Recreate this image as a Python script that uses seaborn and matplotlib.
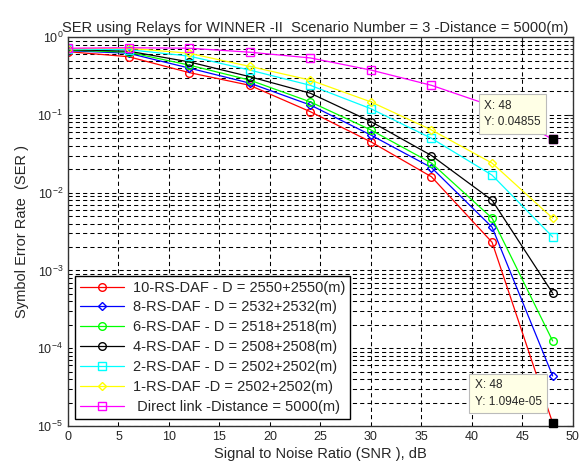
import matplotlib
matplotlib.use("Agg")
import matplotlib.pyplot as plt
import numpy as np
import pandas as pd
import seaborn as sns
from matplotlib.ticker import LogLocator, NullFormatter

snr = [0, 6, 12, 18, 24, 30, 36, 42, 48]

labels = [
    "10-RS-DAF - D = 2550+2550(m)",
    "8-RS-DAF - D = 2532+2532(m)",
    "6-RS-DAF - D = 2518+2518(m)",
    "4-RS-DAF - D = 2508+2508(m)",
    "2-RS-DAF - D = 2502+2502(m)",
    "1-RS-DAF -D = 2502+2502(m)",
    " Direct link -Distance = 5000(m)",
]

ser_10 = [0.65, 0.56, 0.35, 0.24, 0.11, 0.045, 0.016, 0.0023, 1.094e-5]
ser_8 = [0.67, 0.62, 0.40, 0.256, 0.134, 0.055, 0.021, 0.0036, 4.4e-5]
ser_6 = [0.68, 0.64, 0.437, 0.28, 0.147, 0.064, 0.024, 0.0047, 1.24e-4]
ser_4 = [0.69, 0.66, 0.48, 0.31, 0.19, 0.082, 0.030, 0.008, 5.1e-4]
ser_2 = [0.70, 0.69, 0.57, 0.377, 0.24, 0.12, 0.05, 0.0168, 0.0027]
ser_1 = [0.71, 0.72, 0.62, 0.42, 0.28, 0.147, 0.064, 0.024, 0.0047]
ser_direct = [0.72, 0.73, 0.72, 0.64, 0.54, 0.377, 0.24, 0.13, 0.04855]

series = [ser_10, ser_8, ser_6, ser_4, ser_2, ser_1, ser_direct]
colors = ["#ff0000", "#0000ff", "#00ff00", "#000000", "#00ffff", "#ffff00", "#ff00ff"]
markers = ["o", "D", "o", "o", "s", "D", "s"]
msizes = [5.5, 4.5, 5.5, 5.5, 5.5, 4.5, 5.5]

df = pd.concat(
    [pd.DataFrame({"snr": snr, "ser": vals, "curve": lab}) for lab, vals in zip(labels, series)],
    ignore_index=True,
)

sns.set_style("white")
plt.rcParams["font.family"] = ["Liberation Sans", "DejaVu Sans"]

fig = plt.figure(figsize=(5.81, 4.68), dpi=100)
ax = fig.add_axes([0.117, 0.0897, 0.869, 0.831])

for lab, col, mk, ms in zip(labels, colors, markers, msizes):
    sub = df[df["curve"] == lab]
    sns.lineplot(
        data=sub, x="snr", y="ser", ax=ax, color=col, marker=mk, markersize=ms,
        markerfacecolor="none", markeredgecolor=col, markeredgewidth=1.0,
        linewidth=0.9, label=lab, estimator=None, sort=False,
    )

ax.set_yscale("log")
ax.set_xlim(0, 50)
ax.set_ylim(1e-5, 1)
ax.set_xticks(np.arange(0, 51, 5))
ax.yaxis.set_major_locator(LogLocator(base=10, numticks=10))
ax.yaxis.set_minor_locator(LogLocator(base=10, subs=np.arange(2, 10), numticks=20))
ax.yaxis.set_minor_formatter(NullFormatter())

dash = (0, (4, 3))
ax.grid(True, which="major", axis="both", color="black", linestyle=dash, linewidth=0.75)
ax.grid(True, which="minor", axis="y", color="black", linestyle=dash, linewidth=0.75)
ax.set_axisbelow(True)

ax.tick_params(axis="both", which="both", direction="in", top=True, right=True, labelsize=9)
ax.tick_params(axis="both", which="major", length=4)
ax.tick_params(axis="y", which="minor", length=2)
for sp in ax.spines.values():
    sp.set_color("#333333")
    sp.set_linewidth(1.0)

ax.set_title("SER using Relays for WINNER -II  Scenario Number = 3 -Distance = 5000(m)",
             fontsize=10.5, pad=4, x=0.49)
ax.set_xlabel("Signal to Noise Ratio (SNR ), dB", fontsize=10.5, labelpad=3)
ax.set_ylabel("Symbol Error Rate  (SER )", fontsize=10.5, labelpad=6)

leg = ax.legend(loc="lower left", fontsize=10.5, frameon=True, fancybox=False,
                edgecolor="black", framealpha=1, borderaxespad=0.5,
                handlelength=3.0, labelspacing=0.4, borderpad=0.35, handletextpad=0.6)
leg.get_frame().set_linewidth(1.0)

# data tips
tip_x = [48, 48]
tip_y = [0.04855, 1.094e-5]
tip_txt = ["X: 48\nY: 0.04855", "X: 48\nY: 1.094e-05"]
tip_off = [(-8.5, 8), (-8, 11)]
for tx, ty, txt, off in zip(tip_x, tip_y, tip_txt, tip_off):
    ax.plot([tx], [ty], marker="s", color="black", markersize=6, clip_on=False, zorder=6)
    ax.annotate(txt, xy=(tx, ty), xytext=off, textcoords="offset points",
                ha="right", va="bottom", multialignment="left", fontsize=8.5, zorder=7,
                linespacing=1.5,
                bbox=dict(boxstyle="square,pad=0.45", fc="#ffffe6", ec="#bbbbbb", lw=0.8))

fig.savefig("out.png", dpi=100)
